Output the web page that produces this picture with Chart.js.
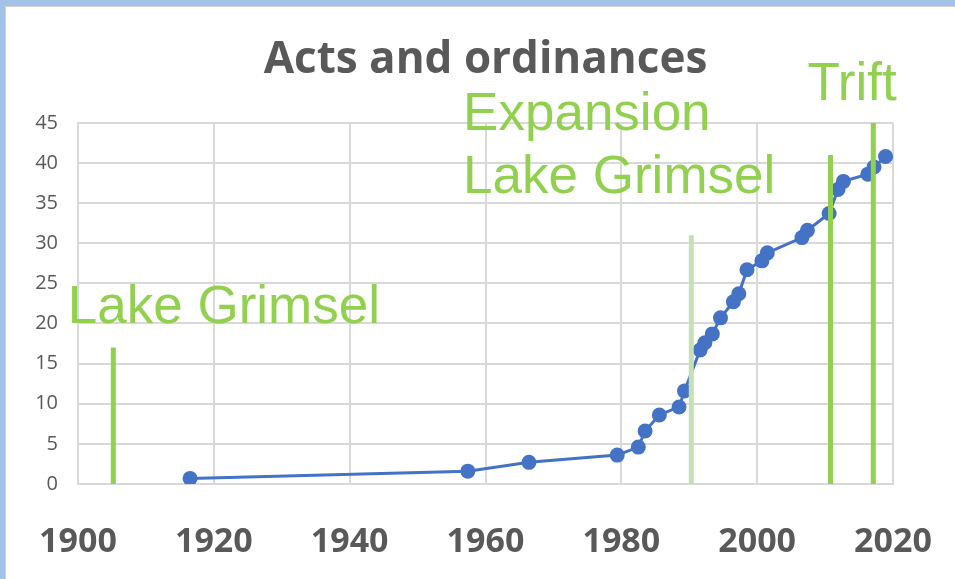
<!DOCTYPE html>
<html>
<head>
<meta charset="utf-8">
<script src="https://cdn.jsdelivr.net/npm/chart.js@4"></script>
<style>
  html, body { margin: 0; padding: 0; background: #ffffff; }
  #wrap { position: relative; width: 955px; height: 579px; overflow: hidden; background: #ffffff; }
  #topband { position: absolute; left: 0; top: 0; width: 955px; height: 6px; background: #a4c2e6; }
  #topline { position: absolute; left: 5px; top: 6px; width: 950px; height: 1px; background: #d0d0d0; }
  #leftband { position: absolute; left: 0; top: 0; width: 5px; height: 579px; background: #a4c2e6; }
  #leftline { position: absolute; left: 5px; top: 6px; width: 1px; height: 573px; background: #d0d0d0; }
  canvas { position: absolute; left: 0; top: 0; }
</style>
</head>
<body>
<div id="wrap">
  <div id="topband"></div><div id="topline"></div>
  <div id="leftband"></div><div id="leftline"></div>
  <canvas id="c" width="955" height="579"></canvas>
</div>
<script>
// ---- data ----
const years  = [1916.5, 1957.4, 1966.4, 1979.4, 1982.5, 1983.5, 1985.6, 1988.5, 1989.3,
                1991.6, 1992.3, 1993.4, 1994.6, 1996.5, 1997.3, 1998.5, 2000.7, 2001.5,
                2006.6, 2007.4, 2010.6, 2011.9, 2012.7, 2016.3, 2017.2, 2018.9];
const counts = [0.7, 1.6, 2.7, 3.6, 4.6, 6.6, 8.6, 9.6, 11.6,
                16.7, 17.6, 18.7, 20.7, 22.7, 23.7, 26.7, 27.8, 28.8,
                30.7, 31.6, 33.7, 36.7, 37.7, 38.6, 39.5, 40.8];
const eventYears   = [1905.2, 1990.3, 2010.8, 2017.1];
const eventHeights = [17, 31, 41, 45];
const eventLabels  = ["Lake Grimsel", "Expansion\nLake Grimsel", "Trift", ""];
const xTicks = [1900, 1920, 1940, 1960, 1980, 2000, 2020];
const yTicks = [0, 5, 10, 15, 20, 25, 30, 35, 40, 45];
const title = "Acts and ordinances";

// ---- styles ----
const BLUE = '#4472c4';
const GREEN = '#92d050';
const LIGHT_GREEN = '#c5e0b4';
const GRID = '#d9d9d9';
const TEXT = '#595959';
const eventColors = [GREEN, LIGHT_GREEN, GREEN, GREEN];
// label anchors (in data units): left x, baseline y for each line of text
const labelAnchors = [
  { x: 1898.5, y: [20] },
  { x: 1956.7, y: [44.1, 36.3] },
  { x: 2007.4, y: [47.9] },
  null
];

const eventDatasets = eventYears.map((yr, i) => ({
  label: eventLabels[i] || 'event',
  data: [{ x: yr, y: 0 }, { x: yr, y: eventHeights[i] }],
  borderColor: eventColors[i],
  backgroundColor: eventColors[i],
  borderWidth: 5,
  pointRadius: 0,
  showLine: true,
  order: 0
}));

const seriesDataset = {
  label: title,
  data: years.map((x, i) => ({ x: x, y: counts[i] })),
  borderColor: BLUE,
  backgroundColor: BLUE,
  borderWidth: 3,
  pointRadius: 7.5,
  pointBorderWidth: 0,
  showLine: true,
  order: 1
};

const eventLabelPlugin = {
  id: 'eventLabels',
  afterDatasetsDraw(chart) {
    const ctx = chart.ctx;
    const xs = chart.scales.x, ys = chart.scales.y;
    ctx.save();
    ctx.fillStyle = GREEN;
    ctx.font = '53px "Liberation Sans", Arial, sans-serif';
    ctx.textAlign = 'left';
    ctx.textBaseline = 'alphabetic';
    eventLabels.forEach((txt, i) => {
      const a = labelAnchors[i];
      if (!txt || !a) return;
      const lines = txt.split('\n');
      lines.forEach((ln, j) => {
        ctx.fillText(ln, xs.getPixelForValue(a.x), ys.getPixelForValue(a.y[j]));
      });
    });
    ctx.restore();
  }
};

new Chart(document.getElementById('c'), {
  type: 'scatter',
  data: { datasets: [...eventDatasets, seriesDataset] },
  options: {
    responsive: false,
    animation: false,
    layout: { padding: { left: 0, right: 62, top: 0, bottom: 0 } },
    plugins: {
      legend: { display: false },
      tooltip: { enabled: false },
      title: {
        display: true,
        text: title,
        fullSize: false,
        color: TEXT,
        font: { family: '"Open Sans", sans-serif', size: 44, weight: 'bold', lineHeight: 1.2 },
        padding: { top: 34, bottom: 36 }
      }
    },
    scales: {
      x: {
        type: 'linear',
        min: xTicks[0], max: xTicks[xTicks.length - 1],
        afterBuildTicks(scale) { scale.ticks = xTicks.map(v => ({ value: v })); },
        afterFit(scale) { scale.height = 95; scale.paddingRight = 0; scale.paddingLeft = 0; },
        grid: { color: GRID, lineWidth: 2, drawTicks: false },
        border: { color: GRID, width: 2 },
        ticks: {
          color: TEXT,
          padding: 38,
          maxRotation: 0,
          font: { family: '"Open Sans", sans-serif', size: 34, weight: 'bold' },
          callback: v => String(v)
        }
      },
      y: {
        type: 'linear',
        min: yTicks[0], max: yTicks[yTicks.length - 1],
        afterBuildTicks(scale) { scale.ticks = yTicks.map(v => ({ value: v })); },
        afterFit(scale) { scale.width = 78; },
        grid: { color: GRID, lineWidth: 2, drawTicks: false },
        border: { color: GRID, width: 2 },
        ticks: {
          color: TEXT,
          padding: 20,
          font: { family: '"Open Sans", sans-serif', size: 20 },
          callback: v => String(v)
        }
      }
    }
  },
  plugins: [eventLabelPlugin]
});
</script>
</body>
</html>
